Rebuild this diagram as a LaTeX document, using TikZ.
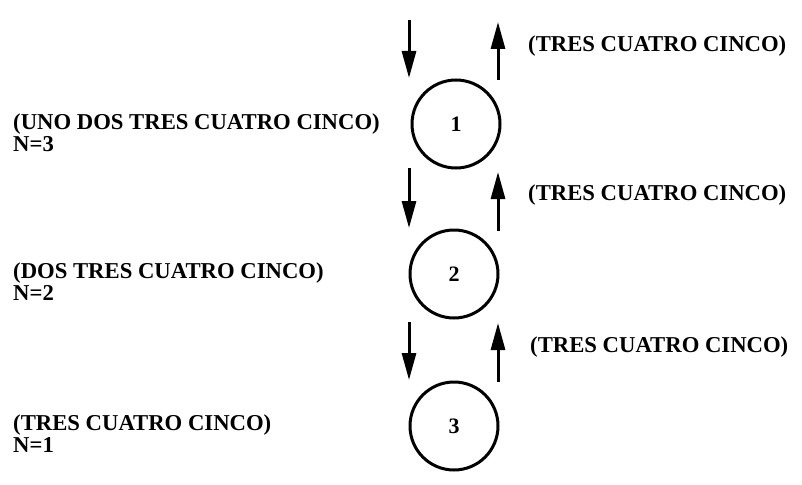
\documentclass[tikz,border=0pt]{standalone}
\usepackage{fontspec}
\setmainfont{Liberation Serif}
\usetikzlibrary{arrows.meta}
\tikzset{
  lbl/.style={font=\bfseries\fontsize{22.7}{26}\selectfont, inner sep=0pt, anchor=base west},
  cnode/.style={circle, draw, line width=3pt, minimum size=88pt, inner sep=0pt, font=\bfseries\fontsize{22}{26}\selectfont},
  flow/.style={line width=3pt, -{Triangle[length=27pt,width=14pt]}}
}
\begin{document}
\begin{tikzpicture}[x=1pt,y=-1pt]
\useasboundingbox (0,0) rectangle (802,484);
% circles
\node[cnode] (c1) at (456,124) {1};
\node[cnode] (c2) at (454,274) {2};
\node[cnode] (c3) at (454,426) {3};
% left labels
\node[lbl] (l1) at (13,129) {(UNO DOS TRES CUATRO CINCO)};
\node[lbl] (n1) at (13,151) {N=3};
\node[lbl] (l2) at (13,278) {(DOS TRES CUATRO CINCO)};
\node[lbl] (n2) at (13,300) {N=2};
\node[lbl] (l3) at (13,430) {(TRES CUATRO CINCO)};
\node[lbl] (n3) at (13,452) {N=1};
% right labels
\node[lbl] (r1) at (528,52) {(TRES CUATRO CINCO)};
\node[lbl] (r2) at (528,200) {(TRES CUATRO CINCO)};
\node[lbl] (r3) at (530,352) {(TRES CUATRO CINCO)};
% arrow ends
\coordinate (d1s) at (409,20);  \coordinate (d1e) at (409,78);
\coordinate (d2s) at (409,168); \coordinate (d2e) at (409,228);
\coordinate (d3s) at (409,322); \coordinate (d3e) at (409,380);
\coordinate (u1s) at (498,80);  \coordinate (u1e) at (498,22);
\coordinate (u2s) at (498,231); \coordinate (u2e) at (498,172);
\coordinate (u3s) at (498,382); \coordinate (u3e) at (498,323);
\draw[flow] (d1s) -- (d1e);
\draw[flow] (d2s) -- (d2e);
\draw[flow] (d3s) -- (d3e);
\draw[flow] (u1s) -- (u1e);
\draw[flow] (u2s) -- (u2e);
\draw[flow] (u3s) -- (u3e);
\end{tikzpicture}
\end{document}
